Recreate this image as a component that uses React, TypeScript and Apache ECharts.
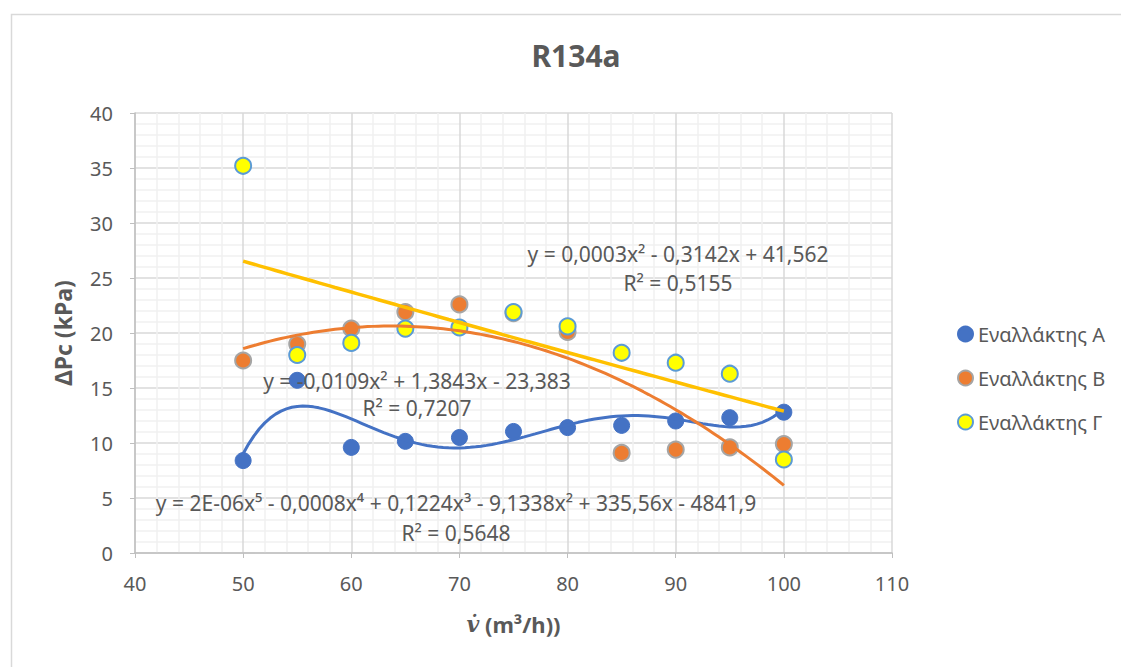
import React, { useEffect, useRef } from "react";
import * as echarts from "echarts";

const xValues = [50, 55, 60, 65, 70, 75, 80, 85, 90, 95, 100];
const seriesA = [8.4, 15.7, 9.6, 10.15, 10.5, 11.05, 11.4, 11.6, 12.0, 12.3, 12.8];
const seriesB = [17.5, 19.0, 20.4, 21.9, 22.6, 21.8, 20.1, 9.1, 9.4, 9.6, 9.9];
const seriesC = [35.2, 18.0, 19.1, 20.4, 20.5, 21.9, 20.6, 18.2, 17.3, 16.3, 8.5];
const seriesNames = ["Εναλλάκτης Α", "Εναλλάκτης Β", "Εναλλάκτης Γ"];
const eqA = ["y = 2E-06x⁵ - 0,0008x⁴ + 0,1224x³ - 9,1338x² + 335,56x - 4841,9", "R² = 0,5648"];
const eqB = ["y = -0,0109x² + 1,3843x - 23,383", "R² = 0,7207"];
const eqC = ["y = 0,0003x² - 0,3142x + 41,562", "R² = 0,5155"];

// least-squares polynomial fit (trendline), on centred/scaled x
function polyFit(xs: number[], ys: number[], deg: number) {
  const c = 75, s = 25;
  const n = deg + 1;
  const A: number[][] = Array.from({ length: n }, () => new Array(n + 1).fill(0));
  xs.forEach((x, k) => {
    const t = (x - c) / s;
    for (let i = 0; i < n; i++) {
      for (let j = 0; j < n; j++) A[i][j] += Math.pow(t, i + j);
      A[i][n] += ys[k] * Math.pow(t, i);
    }
  });
  for (let i = 0; i < n; i++) {
    let p = i;
    for (let r = i + 1; r < n; r++) if (Math.abs(A[r][i]) > Math.abs(A[p][i])) p = r;
    [A[i], A[p]] = [A[p], A[i]];
    for (let r = 0; r < n; r++) {
      if (r === i) continue;
      const f = A[r][i] / A[i][i];
      for (let j = i; j <= n; j++) A[r][j] -= f * A[i][j];
    }
  }
  const coef = A.map((row, i) => row[n] / row[i]);
  return (x: number) => {
    const t = (x - c) / s;
    return coef.reduce((acc, a, i) => acc + a * Math.pow(t, i), 0);
  };
}

function trend(ys: number[], deg: number) {
  const f = polyFit(xValues, ys, deg);
  const pts: number[][] = [];
  for (let x = 50; x <= 100.001; x += 0.5) pts.push([x, f(x)]);
  return pts;
}

export default function App() {
  const ref = useRef<HTMLDivElement>(null);
  useEffect(() => {
    if (!ref.current) return;
    const chart = echarts.init(ref.current, undefined, { renderer: "svg" });
    const txt = "#595959";
    const font = "Noto Sans";
    const eqStyle = (t: string) => ({
      text: t, fill: txt, fontSize: 21, fontFamily: font, textAlign: "center", textVerticalAlign: "middle",
    });
    const eqText = (lines: string[], x: number, y: number, gap: number) => [
      { type: "text", x, y, style: eqStyle(lines[0]), silent: true, z: 10 },
      { type: "text", x, y: y + gap, style: eqStyle(lines[1]), silent: true, z: 10 },
    ];
    chart.setOption({
      animation: false,
      backgroundColor: "#fff",
      textStyle: { fontFamily: font },
      title: {
        text: "R134a",
        left: 571,
        textAlign: "center",
        top: 35,
        textStyle: { fontSize: 30, fontWeight: "bold", color: txt, fontFamily: font },
      },
      grid: { left: 135, right: 229, top: 113, bottom: 114 },
      legend: {
        data: seriesNames,
        orient: "vertical",
        left: 952,
        top: 319,
        itemGap: 24,
        itemWidth: 15,
        itemHeight: 15,
        icon: "circle",
        textStyle: { fontSize: 20, color: txt, fontFamily: font },
      },
      xAxis: {
        type: "value",
        min: 40,
        max: 110,
        interval: 10,
        name: "{i|v̇} (m³/h))",
        nameLocation: "middle",
        nameGap: 60,
        nameTextStyle: {
          fontSize: 22,
          fontWeight: "bold",
          color: txt,
          rich: { i: { fontFamily: "DejaVu Serif", fontStyle: "italic", fontSize: 22, color: txt } },
        },
        axisLine: { show: true, lineStyle: { color: "#bfbfbf", width: 1.5 } },
        axisTick: { show: true, length: 5, lineStyle: { color: "#bfbfbf" } },
        axisLabel: { fontSize: 20, color: txt, margin: 20 },
        splitLine: { show: true, lineStyle: { color: "#d9d9d9", width: 1.5 } },
        minorSplitLine: { show: true, lineStyle: { color: "#f0f0f0", width: 1.5 } },
        minorTick: { show: false, splitNumber: 5 },
      },
      yAxis: {
        type: "value",
        min: 0,
        max: 40,
        interval: 5,
        name: "ΔPc (kPa)",
        nameLocation: "middle",
        nameGap: 61,
        nameTextStyle: { fontSize: 23, fontWeight: "bold", color: txt },
        axisLine: { show: true, lineStyle: { color: "#bfbfbf", width: 1.5 } },
        axisTick: { show: true, length: 5, lineStyle: { color: "#bfbfbf" } },
        axisLabel: { fontSize: 20, color: txt, margin: 22 },
        splitLine: { show: true, lineStyle: { color: "#d9d9d9", width: 1.5 } },
        minorSplitLine: { show: true, lineStyle: { color: "#f0f0f0", width: 1.5 } },
        minorTick: { show: false, splitNumber: 5 },
      },
      graphic: [
        { type: "rect", shape: { x: 11.5, y: 14.5, width: 1130, height: 700 }, style: { fill: "none", stroke: "#d9d9d9", lineWidth: 1.5 }, silent: true },
        ...eqText(eqC, 678, 254, 29),
        ...eqText(eqB, 417, 381, 27),
        ...eqText(eqA, 456, 503, 30),
      ],
      series: [
        {
          name: seriesNames[0], type: "scatter", symbolSize: 16,
          itemStyle: { color: "#4472C4", borderColor: "#4472C4", borderWidth: 1, opacity: 1 },
          data: xValues.map((x, i) => [x, seriesA[i]]), z: 3,
        },
        {
          name: seriesNames[1], type: "scatter", symbolSize: 16,
          itemStyle: { color: "#ED7D31", borderColor: "#A5A5A5", borderWidth: 2, opacity: 1 },
          data: xValues.map((x, i) => [x, seriesB[i]]), z: 3,
        },
        {
          name: seriesNames[2], type: "scatter", symbolSize: 16,
          itemStyle: { color: "#FFFF00", borderColor: "#5B9BD5", borderWidth: 2, opacity: 1 },
          data: xValues.map((x, i) => [x, seriesC[i]]), z: 3,
        },
        { type: "line", showSymbol: false, symbol: "none", data: trend(seriesA, 5), lineStyle: { color: "#4472C4", width: 3 }, z: 4 },
        { type: "line", showSymbol: false, symbol: "none", data: trend(seriesB, 2), lineStyle: { color: "#ED7D31", width: 3 }, z: 4 },
        { type: "line", showSymbol: false, symbol: "none", data: trend(seriesC, 2), lineStyle: { color: "#FFC000", width: 3.5 }, z: 4 },
      ],
    });
    return () => chart.dispose();
  }, []);
  return <div ref={ref} style={{ position: "fixed", left: 0, top: 0, width: 1121, height: 667 }} />;
}
